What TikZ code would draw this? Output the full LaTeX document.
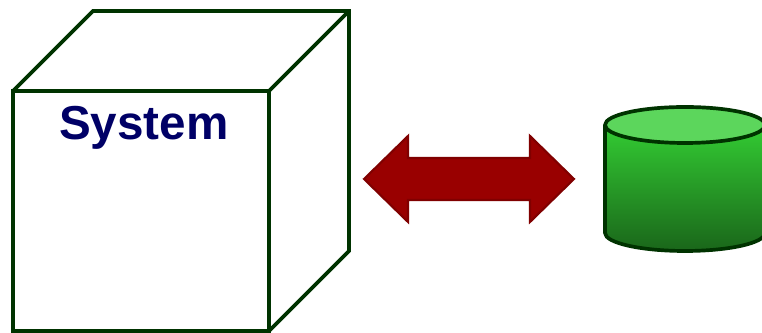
\documentclass[tikz,border=0pt]{standalone}
\usepackage{fontspec}
\setmainfont{Liberation Sans}
\definecolor{boxGreen}{RGB}{0,51,0}
\definecolor{labelNavy}{RGB}{0,0,102}
\definecolor{arrowRed}{RGB}{153,0,0}
\definecolor{arrowEdge}{RGB}{128,0,0}
\definecolor{drumLight}{RGB}{92,214,92}
\definecolor{drumTop}{RGB}{51,204,51}
\definecolor{drumBottom}{RGB}{26,102,26}
\usetikzlibrary{positioning,calc}

\begin{document}
\begin{tikzpicture}[x=0.02cm,y=-0.02cm,
        cube/.style={draw=boxGreen, line width=2.1pt, line join=miter},
        syslabel/.style={font=\fontsize{27.1}{27.1}\selectfont\bfseries, text=labelNavy, inner sep=0pt},
        biarrow/.style={draw=arrowEdge, fill=arrowRed, line width=1.2pt, line join=miter},
        drum/.style={draw=boxGreen, line width=2.1pt, line join=round}
      ]
        \useasboundingbox (0,0) rectangle (762,333);
        % cube
        \coordinate (fronttl) at (13,91);
        \coordinate (fronttr) at (269,91);
        \coordinate (frontbr) at (269,331);
        \coordinate (frontbl) at (13,331);
        \coordinate (backtl) at (93,11);
        \coordinate (backtr) at (349,11);
        \coordinate (backbr) at (349,251);
        \draw[cube] (fronttl) -- (fronttr) -- (frontbr) -- (frontbl) -- cycle;
        \draw[cube] (fronttl) -- (backtl) -- (backtr) -- (backbr) -- (frontbr);
        \draw[cube] (fronttr) -- (backtr);
        \node[syslabel] (system) at (143.8,128) {System};
        % double arrow
        \draw[biarrow] (364,179) -- (408,136) -- (408,158) -- (530,158) -- (530,136)
          -- (574,179) -- (530,222) -- (530,200) -- (408,200) -- (408,222) -- cycle;
        % drum
        \draw[drum, top color=drumTop, bottom color=drumBottom]
          (605,125) -- (605,233) arc[start angle=180, end angle=0, x radius=80, y radius=18]
          -- (765,125) -- cycle;
        \draw[drum, fill=drumLight] (685,125) ellipse[x radius=80, y radius=18];
      \end{tikzpicture}
\end{document}
